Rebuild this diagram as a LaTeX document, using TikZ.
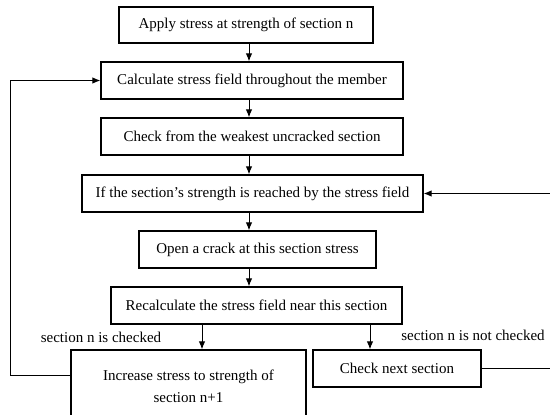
\documentclass[tikz,border=0pt]{standalone}
\usepackage{fontspec}
\setmainfont{Liberation Serif}
\usetikzlibrary{arrows.meta}

\begin{document}
\begin{tikzpicture}[x=1pt,y=-1pt]
	\tikzstyle{arrow}=[draw, -{Latex[length=8pt,width=6.5pt]}, line width=1pt]
	\tikzstyle{stepbox}=[draw, line width=1.3pt, inner sep=0pt, minimum height=37pt, font=\fontsize{15}{22}\selectfont]
	\tikzstyle{caption}=[font=\fontsize{15}{18}\selectfont]
	\newcommand\Xspine{249}

	\useasboundingbox (0,0) rectangle (550,415);
	\clip (0,0) rectangle (550,415);
	\coordinate (spine) at (\Xspine,0);

	 % Main column
	\node [stepbox, minimum width=254pt, minimum height=36pt] at (246,25) (apply) {Apply stress at strength of section n};
	\node [stepbox, minimum width=302pt] at (252,80.5) (calc) {Calculate stress field throughout the member};
	\node [stepbox, minimum width=302pt] at (252,136.5) (check) {Check from the weakest uncracked section};
	\node [stepbox, minimum width=341pt] at (252.5,193.5) (reach) {If the section’s strength is reached by the stress field};
	\node [stepbox, minimum width=237pt] at (257.5,249.5) (crack) {Open a crack at this section stress};
	\node [stepbox, minimum width=291pt] at (256.5,305.5) (recalc) {Recalculate the stress field near this section};

	 % Branches
	\node [stepbox, minimum width=235pt, minimum height=72pt, align=center] at (188.5,386) (incr) {Increase stress to strength of\\section n+1};
	\node [stepbox, minimum width=168pt] at (397,368.5) (next) {Check next section};
	\node [caption] at (101,337) (ischecked) {section n is checked};
	\node [caption] at (473,335) (notchecked) {section n is not checked};

	 % Path Arrows
	\path [arrow] (apply.south -| spine) -- (calc.north -| spine);
	\path [arrow] (calc.south -| spine) -- (check.north -| spine);
	\path [arrow] (check.south -| spine) -- (reach.north -| spine);
	\path [arrow] (reach.south -| spine) -- (crack.north -| spine);
	\path [arrow] (crack.south -| spine) -- (recalc.north -| spine);
	\path [arrow] ([xshift=-54.5pt]recalc.south) -- ([xshift=-54.5pt]recalc.south |- incr.north);
	\path [arrow] ([xshift=113.5pt]recalc.south) -- ([xshift=113.5pt]recalc.south |- next.north);

	 % Loops
	\path [arrow] ([yshift=11pt]incr.west) -- ++(-60,0) |- (calc.west);
	\path [arrow] (next.east) -- ++(79,0) |- (reach.east);

\end{tikzpicture}
\end{document}
